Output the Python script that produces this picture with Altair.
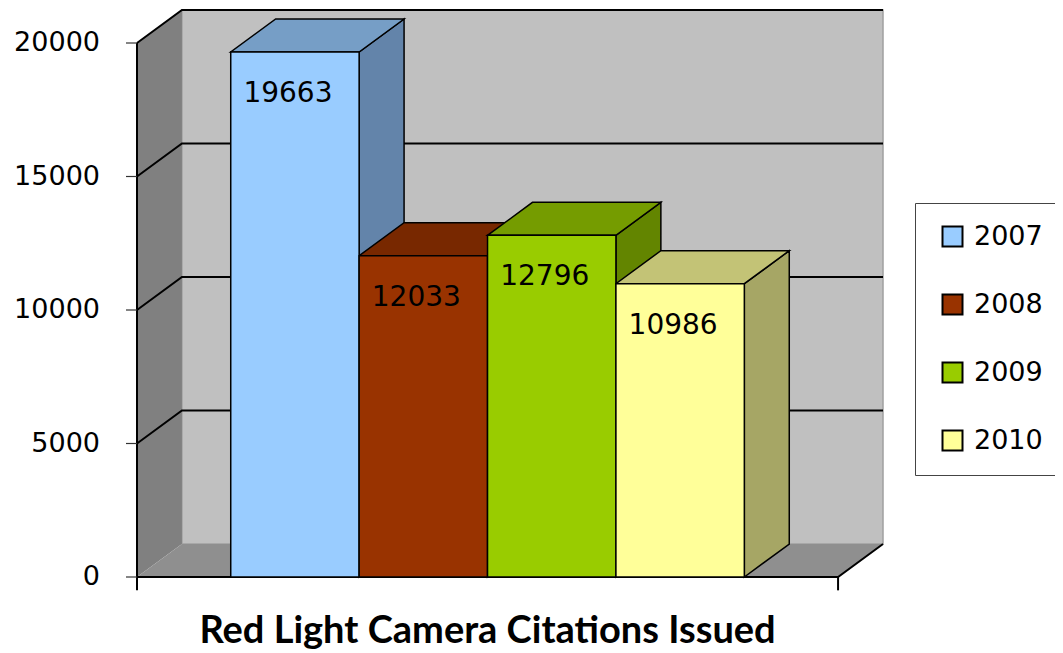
import altair as alt
import pandas as pd

# ---- data ----
years = ["2007", "2008", "2009", "2010"]
values = [19663, 12033, 12796, 10986]
front_colors = ["#99CCFF", "#993300", "#99CC00", "#FFFF99"]
top_colors = ["#769EC6", "#782800", "#759C00", "#C3C376"]
side_colors = ["#6384AA", "#662200", "#638500", "#A6A665"]
y_ticks = [0, 5000, 10000, 15000, 20000]
title_text = "Red Light Camera Citations Issued"

# ---- geometry (data units) ----
GAP = 0.73      # gap between axis wall and first/last bar
DX = 0.35       # depth offset in x (bar widths)
D = 1236        # depth offset in y (value units)
YTOP = y_ticks[-1]
FRONT = 2 * GAP + len(years)
XMAX = FRONT + DX
YMAX = YTOP + D

W, H = 746, 567
xs = alt.Scale(domain=[0, XMAX], nice=False, zero=False)
ys = alt.Scale(domain=[0, YMAX], nice=False, zero=False)

front_df = pd.DataFrame({
    "year": years,
    "x0": [GAP + i for i in range(len(years))],
    "x1": [GAP + i + 1 for i in range(len(years))],
    "y0": [0] * len(years),
    "v": values,
    "cx": [GAP + i + 0.5 for i in range(len(years))],
})

side_rows, top_rows = [], []
for i, (yr, v) in enumerate(zip(years, values)):
    x0, x1 = GAP + i, GAP + i + 1
    side_rows += [
        {"year": yr, "x": x1, "y": 0, "y2": v, "c": side_colors[i]},
        {"year": yr, "x": x1 + DX, "y": D, "y2": v + D, "c": side_colors[i]},
    ]
    top_rows += [
        {"year": yr, "x": x0, "y": v, "y2": v, "c": top_colors[i]},
        {"year": yr, "x": x0 + DX, "y": v, "y2": v + D, "c": top_colors[i]},
        {"year": yr, "x": x1, "y": v, "y2": v + D, "c": top_colors[i]},
        {"year": yr, "x": x1 + DX, "y": v + D, "y2": v + D, "c": top_colors[i]},
    ]
side_df = pd.DataFrame(side_rows)
top_df = pd.DataFrame(top_rows)

grid_rows = []
for t in y_ticks[1:]:
    grid_rows += [
        {"t": t, "x": 0, "y": t},
        {"t": t, "x": DX, "y": t + D},
        {"t": t, "x": XMAX, "y": t + D},
    ]
grid_df = pd.DataFrame(grid_rows)
tick_df = pd.DataFrame({"t": y_ticks})

back_df = pd.DataFrame({"x": [DX], "x2": [XMAX], "y": [D], "y2": [YMAX]})
left_df = pd.DataFrame({"x": [0, DX], "y": [0, D], "y2": [YTOP, YMAX]})
floor_df = pd.DataFrame({"x": [0, DX, FRONT, XMAX], "y": [0, 0, 0, D], "y2": [0, D, D, D]})
base_line_df = pd.DataFrame({"x": [0, FRONT, XMAX], "y": [0, 0, D]})
vrules_df = pd.DataFrame({"x": [0, FRONT], "y": [-500, -500], "y2": [YTOP, 0]})
title_df = pd.DataFrame({"x": [FRONT / 2], "t": [title_text]})

X = lambda f: alt.X(f, scale=xs, axis=None)
Y = lambda f: alt.Y(f, scale=ys, axis=None)

back = alt.Chart(back_df).mark_rect(fill="#C0C0C0", stroke="#A0A0A0", strokeWidth=1.5).encode(
    x=X("x:Q"), x2="x2:Q", y=Y("y:Q"), y2="y2:Q")

left = alt.Chart(left_df).mark_area(fill="#808080").encode(
    x=X("x:Q"), y=Y("y:Q"), y2="y2:Q")

floor = alt.Chart(floor_df).mark_area(fill="#8F8F8F").encode(
    x=X("x:Q"), y=Y("y:Q"), y2="y2:Q")

grid = alt.Chart(grid_df).mark_line(color="black", strokeWidth=2).encode(
    x=X("x:Q"), y=Y("y:Q"), detail="t:N")

base_line = alt.Chart(base_line_df).mark_line(color="black", strokeWidth=2).encode(
    x=X("x:Q"), y=Y("y:Q"))

vrules = alt.Chart(vrules_df).mark_rule(color="black", strokeWidth=2).encode(
    x=X("x:Q"), y=Y("y:Q"), y2="y2:Q")

ticks = alt.Chart(tick_df).mark_rule(color="#333333", strokeWidth=1.2).encode(
    x=alt.value(-11), x2=alt.value(0), y=Y("t:Q"))

tick_labels = alt.Chart(tick_df).mark_text(font="DejaVu Sans", fontSize=27, color="black",
                                           align="right", baseline="middle").encode(
    x=alt.value(-37), y=Y("t:Q"), text="t:Q")

sides = alt.Chart(side_df).mark_area(stroke="black", strokeWidth=1.5, opacity=1).encode(
    x=X("x:Q"), y=Y("y:Q"), y2="y2:Q",
    fill=alt.Fill("c:N", scale=None), detail="year:N")

tops = alt.Chart(top_df).mark_area(stroke="black", strokeWidth=1.5, opacity=1).encode(
    x=X("x:Q"), y=Y("y:Q"), y2="y2:Q",
    fill=alt.Fill("c:N", scale=None), detail="year:N")

fronts = alt.Chart(front_df).mark_rect(stroke="black", strokeWidth=1.5).encode(
    x=X("x0:Q"), x2="x1:Q", y=Y("y0:Q"), y2="v:Q",
    fill=alt.Fill("year:N", scale=alt.Scale(domain=years, range=front_colors),
                  legend=alt.Legend(title=None, orient="none", legendX=778, legendY=193,
                                    symbolType="square", symbolSize=400,
                                    symbolStrokeColor="black", symbolStrokeWidth=2,
                                    labelFont="DejaVu Sans", labelFontSize=27,
                                    labelColor="black", labelOffset=8, symbolOffset=4,
                                    padding=20, rowPadding=39, strokeColor="#444",
                                    fillColor="white")))

labels = alt.Chart(front_df).mark_text(font="DejaVu Sans", fontSize=28, color="black",
                                       dx=-7, dy=42, baseline="middle", align="center").encode(
    x=X("cx:Q"), y=Y("v:Q"), text="v:Q")

title = alt.Chart(title_df).mark_text(font="Lato", fontWeight="bold", fontSize=38,
                                      color="black", baseline="alphabetic", align="center").encode(
    x=X("x:Q"), y=alt.value(633), text="t:N")

chart = alt.layer(back, left, floor, grid, base_line, vrules, ticks, tick_labels,
                  sides, tops, fronts, labels, title).properties(
    width=W, height=H,
    autosize=alt.AutoSizeParams(type="none"),
    padding={"left": 129, "top": 2, "right": 172, "bottom": 82},
    background="white",
).configure_view(stroke=None)

chart.save("out.html", embed_options={"renderer": "svg", "actions": False})
